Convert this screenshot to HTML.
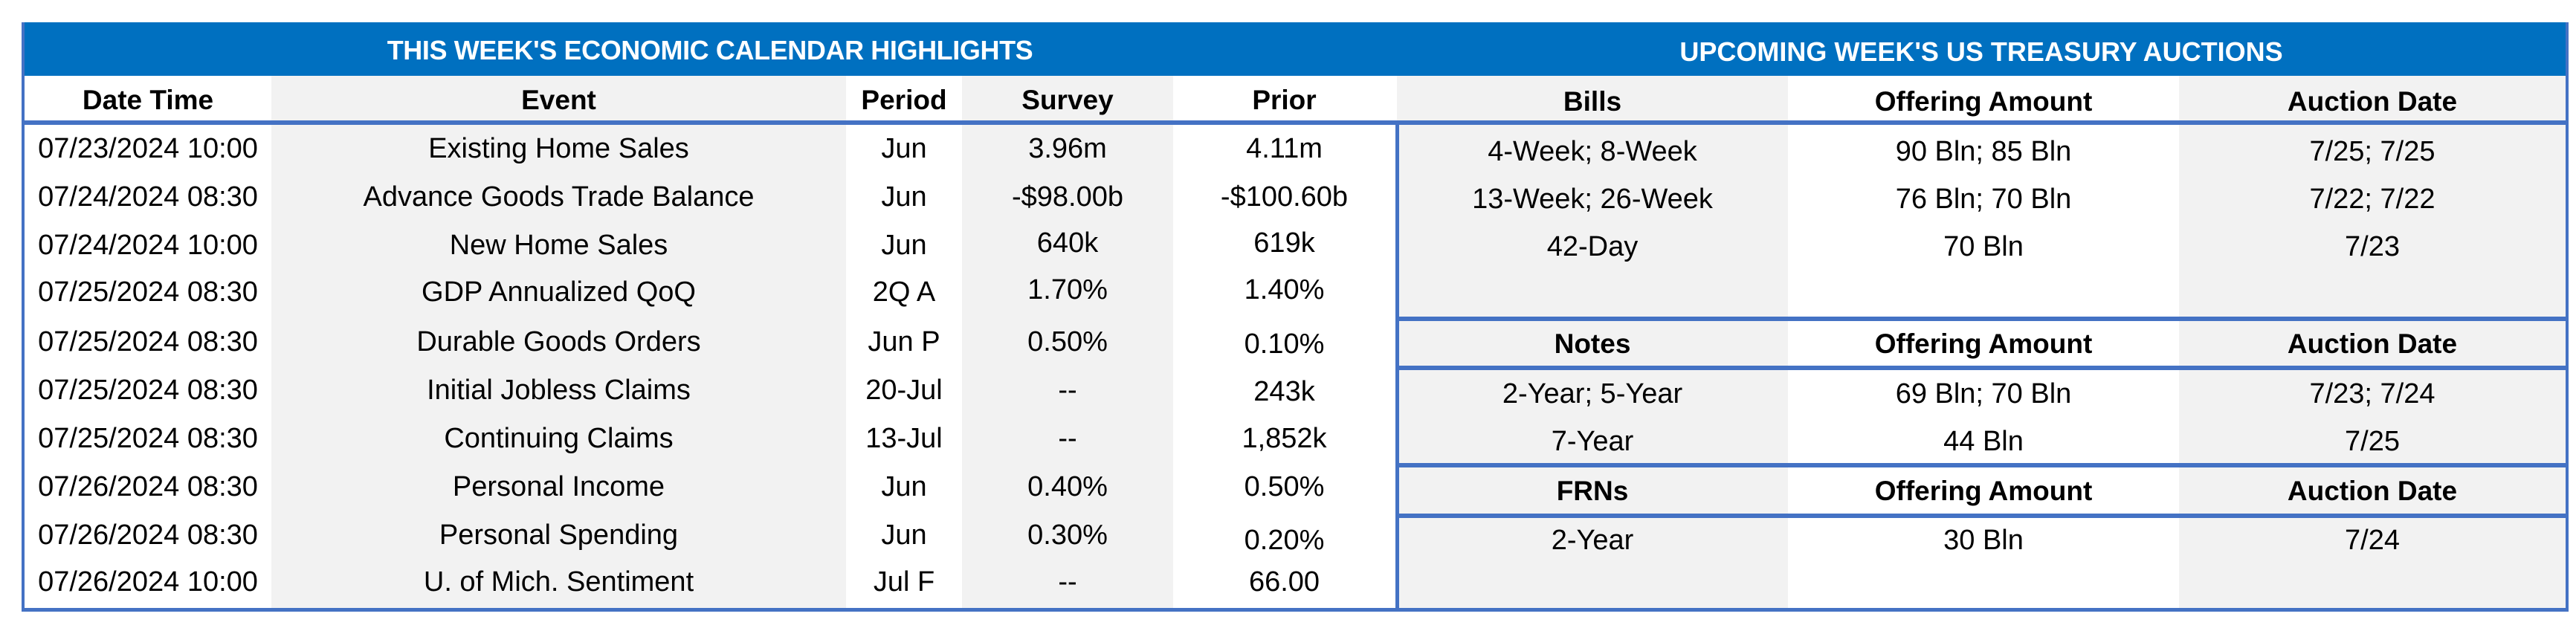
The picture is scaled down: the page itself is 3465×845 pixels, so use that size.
<!DOCTYPE html>
<html><head><meta charset="utf-8"><style>
*{margin:0;padding:0;box-sizing:border-box}
body{width:3465px;height:845px;background:#fff;position:relative;overflow:hidden;font-family:"Liberation Sans",Arial,sans-serif;font-size:38px;color:#000}
.a{position:absolute}
.c{position:absolute;text-align:center;white-space:nowrap;line-height:42px;height:42px;transform:translateY(-50%)}
.b{font-weight:bold;font-size:37px}
.w{color:#fff;font-weight:bold;font-size:36px}
</style></head><body>
<div class="a" style="left:365px;top:102px;width:773px;height:718px;background:#f2f2f2"></div>
<div class="a" style="left:1294px;top:102px;width:284px;height:718px;background:#f2f2f2"></div>
<div class="a" style="left:1879px;top:102px;width:526px;height:718px;background:#f2f2f2"></div>
<div class="a" style="left:2931px;top:102px;width:522px;height:718px;background:#f2f2f2"></div>
<div class="a" style="left:29px;top:30px;width:3426px;height:72px;background:#0070c0"></div>
<div class="a" style="left:29px;top:30px;width:4px;height:793px;background:#4472c4"></div>
<div class="a" style="left:3451px;top:30px;width:4px;height:793px;background:#4472c4"></div>
<div class="a" style="left:29px;top:818px;width:3426px;height:5px;background:#4472c4"></div>
<div class="a" style="left:29px;top:162px;width:3426px;height:6px;background:#4472c4"></div>
<div class="a" style="left:1877px;top:162px;width:5px;height:660px;background:#4472c4"></div>
<div class="a" style="left:1877px;top:426px;width:1578px;height:6px;background:#4472c4"></div>
<div class="a" style="left:1877px;top:492px;width:1578px;height:6px;background:#4472c4"></div>
<div class="a" style="left:1877px;top:623px;width:1578px;height:6px;background:#4472c4"></div>
<div class="a" style="left:1877px;top:691px;width:1578px;height:6px;background:#4472c4"></div>
<div class="c w" style="left:33px;width:1844px;top:68px;letter-spacing:-0.4px">THIS WEEK'S ECONOMIC CALENDAR HIGHLIGHTS</div>
<div class="c w" style="left:1879px;width:1572px;top:70px">UPCOMING WEEK'S US TREASURY AUCTIONS</div>
<div class="c b" style="left:33px;width:332px;top:135px">Date Time</div>
<div class="c b" style="left:365px;width:773px;top:135px">Event</div>
<div class="c b" style="left:1138px;width:156px;top:135px">Period</div>
<div class="c b" style="left:1294px;width:284px;top:135px">Survey</div>
<div class="c b" style="left:1578px;width:299px;top:135px">Prior</div>
<div class="c" style="left:33px;width:332px;top:200px">07/23/2024 10:00</div><div class="c" style="left:365px;width:773px;top:200px">Existing Home Sales</div><div class="c" style="left:1138px;width:156px;top:200px">Jun</div><div class="c" style="left:1294px;width:284px;top:200px">3.96m</div><div class="c" style="left:1578px;width:299px;top:200px">4.11m</div>
<div class="c" style="left:33px;width:332px;top:265px">07/24/2024 08:30</div><div class="c" style="left:365px;width:773px;top:265px">Advance Goods Trade Balance</div><div class="c" style="left:1138px;width:156px;top:265px">Jun</div><div class="c" style="left:1294px;width:284px;top:265px">-$98.00b</div><div class="c" style="left:1578px;width:299px;top:265px">-$100.60b</div>
<div class="c" style="left:33px;width:332px;top:330px">07/24/2024 10:00</div><div class="c" style="left:365px;width:773px;top:330px">New Home Sales</div><div class="c" style="left:1138px;width:156px;top:330px">Jun</div><div class="c" style="left:1294px;width:284px;top:327px">640k</div><div class="c" style="left:1578px;width:299px;top:327px">619k</div>
<div class="c" style="left:33px;width:332px;top:393px">07/25/2024 08:30</div><div class="c" style="left:365px;width:773px;top:393px">GDP Annualized QoQ</div><div class="c" style="left:1138px;width:156px;top:393px">2Q A</div><div class="c" style="left:1294px;width:284px;top:390px">1.70%</div><div class="c" style="left:1578px;width:299px;top:390px">1.40%</div>
<div class="c" style="left:33px;width:332px;top:460px">07/25/2024 08:30</div><div class="c" style="left:365px;width:773px;top:460px">Durable Goods Orders</div><div class="c" style="left:1138px;width:156px;top:460px">Jun P</div><div class="c" style="left:1294px;width:284px;top:460px">0.50%</div><div class="c" style="left:1578px;width:299px;top:463px">0.10%</div>
<div class="c" style="left:33px;width:332px;top:525px">07/25/2024 08:30</div><div class="c" style="left:365px;width:773px;top:525px">Initial Jobless Claims</div><div class="c" style="left:1138px;width:156px;top:525px">20-Jul</div><div class="c" style="left:1294px;width:284px;top:525px">--</div><div class="c" style="left:1578px;width:299px;top:527px">243k</div>
<div class="c" style="left:33px;width:332px;top:590px">07/25/2024 08:30</div><div class="c" style="left:365px;width:773px;top:590px">Continuing Claims</div><div class="c" style="left:1138px;width:156px;top:590px">13-Jul</div><div class="c" style="left:1294px;width:284px;top:590px">--</div><div class="c" style="left:1578px;width:299px;top:590px">1,852k</div>
<div class="c" style="left:33px;width:332px;top:655px">07/26/2024 08:30</div><div class="c" style="left:365px;width:773px;top:655px">Personal Income</div><div class="c" style="left:1138px;width:156px;top:655px">Jun</div><div class="c" style="left:1294px;width:284px;top:655px">0.40%</div><div class="c" style="left:1578px;width:299px;top:655px">0.50%</div>
<div class="c" style="left:33px;width:332px;top:720px">07/26/2024 08:30</div><div class="c" style="left:365px;width:773px;top:720px">Personal Spending</div><div class="c" style="left:1138px;width:156px;top:720px">Jun</div><div class="c" style="left:1294px;width:284px;top:720px">0.30%</div><div class="c" style="left:1578px;width:299px;top:727px">0.20%</div>
<div class="c" style="left:33px;width:332px;top:783px">07/26/2024 10:00</div><div class="c" style="left:365px;width:773px;top:783px">U. of Mich. Sentiment</div><div class="c" style="left:1138px;width:156px;top:783px">Jul F</div><div class="c" style="left:1294px;width:284px;top:783px">--</div><div class="c" style="left:1578px;width:299px;top:783px">66.00</div>
<div class="c b" style="left:1879px;width:526px;top:137px">Bills</div><div class="c b" style="left:2405px;width:526px;top:137px">Offering Amount</div><div class="c b" style="left:2931px;width:520px;top:137px">Auction Date</div>
<div class="c" style="left:1879px;width:526px;top:204px">4-Week; 8-Week</div><div class="c" style="left:2405px;width:526px;top:204px">90 Bln; 85 Bln</div><div class="c" style="left:2931px;width:520px;top:204px">7/25; 7/25</div>
<div class="c" style="left:1879px;width:526px;top:268px">13-Week; 26-Week</div><div class="c" style="left:2405px;width:526px;top:268px">76 Bln; 70 Bln</div><div class="c" style="left:2931px;width:520px;top:268px">7/22; 7/22</div>
<div class="c" style="left:1879px;width:526px;top:332px">42-Day</div><div class="c" style="left:2405px;width:526px;top:332px">70 Bln</div><div class="c" style="left:2931px;width:520px;top:332px">7/23</div>
<div class="c b" style="left:1879px;width:526px;top:463px">Notes</div><div class="c b" style="left:2405px;width:526px;top:463px">Offering Amount</div><div class="c b" style="left:2931px;width:520px;top:463px">Auction Date</div>
<div class="c" style="left:1879px;width:526px;top:530px">2-Year; 5-Year</div><div class="c" style="left:2405px;width:526px;top:530px">69 Bln; 70 Bln</div><div class="c" style="left:2931px;width:520px;top:530px">7/23; 7/24</div>
<div class="c" style="left:1879px;width:526px;top:594px">7-Year</div><div class="c" style="left:2405px;width:526px;top:594px">44 Bln</div><div class="c" style="left:2931px;width:520px;top:594px">7/25</div>
<div class="c b" style="left:1879px;width:526px;top:661px">FRNs</div><div class="c b" style="left:2405px;width:526px;top:661px">Offering Amount</div><div class="c b" style="left:2931px;width:520px;top:661px">Auction Date</div>
<div class="c" style="left:1879px;width:526px;top:727px">2-Year</div><div class="c" style="left:2405px;width:526px;top:727px">30 Bln</div><div class="c" style="left:2931px;width:520px;top:727px">7/24</div>
</body></html>
